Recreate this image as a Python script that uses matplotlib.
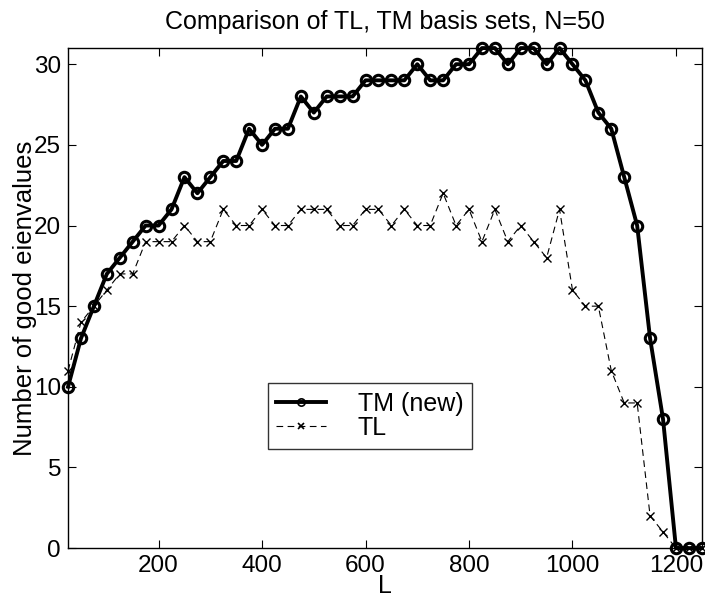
import matplotlib.pyplot as plt

plt.rcParams['font.family'] = ['Liberation Sans', 'DejaVu Sans']

L = list(range(25, 1251, 25))
tm_new = [10, 13, 15, 17, 18, 19, 20, 20, 21, 23, 22, 23, 24, 24, 26, 25, 26, 26, 28, 27,
          28, 28, 28, 29, 29, 29, 29, 30, 29, 29, 30, 30, 31, 31, 30, 31, 31, 30, 31, 30,
          29, 27, 26, 23, 20, 13, 8, 0, 0, 0]
tl = [11, 14, 15, 16, 17, 17, 19, 19, 19, 20, 19, 19, 21, 20, 20, 21, 20, 20, 21, 21,
      21, 20, 20, 21, 21, 20, 21, 20, 20, 22, 20, 21, 19, 21, 19, 20, 19, 18, 21, 16,
      15, 15, 11, 9, 9, 2, 1, 0, 0, 0]

fig = plt.figure(figsize=(7.05, 6.01), dpi=100)
ax = fig.add_axes([0.0965, 0.088, 0.899, 0.832])

ax.plot(L, tm_new, color='black', linewidth=2.8, marker='o', markersize=7.5,
        markerfacecolor='none', markeredgewidth=2.2, label='TM (new)', clip_on=False)
ax.plot(L, tl, color='black', linewidth=0.8, linestyle=(0, (6, 4)), marker='x',
        markersize=6, markeredgewidth=1, label='TL', clip_on=False)

ax.set_xlim(25, 1250)
ax.set_ylim(0, 31)
ax.set_xticks([200, 400, 600, 800, 1000, 1200])
ax.set_yticks([0, 5, 10, 15, 20, 25, 30])
ax.tick_params(direction='in', top=True, right=True, labelsize=17.5, length=6, pad=5)
for s in ax.spines.values():
    s.set_linewidth(1)

ax.set_xlabel('L', fontsize=18, labelpad=-2)
ax.set_ylabel('Number of good eienvalues', fontsize=18.5, labelpad=-2)
ax.set_title('Comparison of TL, TM basis sets, N=50', fontsize=18, pad=14)

leg = ax.legend(loc='upper left', bbox_to_anchor=(0.315, 0.33), fontsize=18,
                frameon=True, fancybox=False, edgecolor='black', handlelength=2.0,
                borderpad=0.35, labelspacing=0.0, handletextpad=1.25,
                borderaxespad=0, markerscale=0.7)
leg.get_frame().set_linewidth(1)
for h in leg.legend_handles:
    h.set_markeredgewidth(1.2)

fig.savefig('out.png', dpi=100)
